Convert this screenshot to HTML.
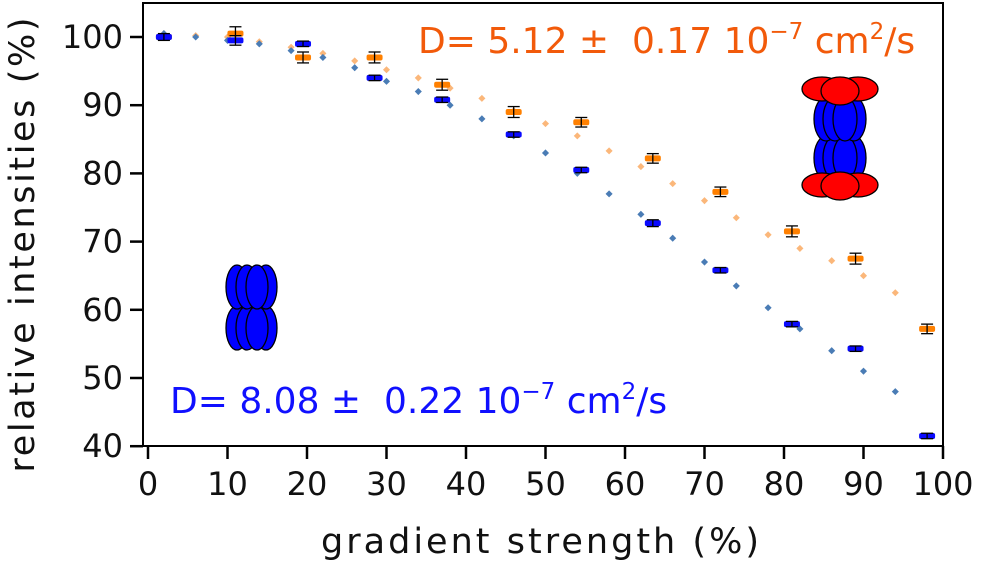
<!DOCTYPE html>
<html><head><meta charset="utf-8"><style>
body{margin:0;background:#fff}
svg text{font-family:"DejaVu Sans","Liberation Sans",sans-serif}
</style></head><body>
<svg id="chart" width="981" height="565">
<rect x="143" y="3" width="800" height="443" fill="none" stroke="#000" stroke-width="2"/>
<g id="ticks"></g><g id="fits"></g><g id="marks"></g>
<text x="24" y="245" transform="rotate(-90 24 245)" text-anchor="middle" dominant-baseline="middle" font-size="35" textLength="455" fill="#111">relative intensities (%)</text>
<text x="540" y="553" text-anchor="middle" font-size="35" textLength="438" fill="#111">gradient strength (%)</text>
<text x="418" y="53" font-size="36" fill="#f25a0a">D= 5.12 ±&#160; 0.17 10<tspan dy="-14" font-size="23">−7</tspan><tspan dy="14"> cm</tspan><tspan dy="-14" font-size="23">2</tspan><tspan dy="14">/s</tspan></text>
<text x="170" y="413" font-size="36" fill="#1010ff">D= 8.08 ±&#160; 0.22 10<tspan dy="-14" font-size="23">−7</tspan><tspan dy="14"> cm</tspan><tspan dy="-14" font-size="23">2</tspan><tspan dy="14">/s</tspan></text>
<g stroke="#000" stroke-width="1.3">
<ellipse cx="826" cy="158" rx="12" ry="22" fill="#0000ff"/><ellipse cx="854" cy="158" rx="12" ry="22" fill="#0000ff"/><ellipse cx="835" cy="158" rx="12" ry="22" fill="#0000ff"/><ellipse cx="845" cy="158" rx="12" ry="22" fill="#0000ff"/>
<ellipse cx="826" cy="119" rx="12" ry="22" fill="#0000ff"/><ellipse cx="854" cy="119" rx="12" ry="22" fill="#0000ff"/><ellipse cx="835" cy="119" rx="12" ry="22" fill="#0000ff"/><ellipse cx="845" cy="119" rx="12" ry="22" fill="#0000ff"/>
<ellipse cx="822" cy="89" rx="20" ry="12" fill="#f00"/><ellipse cx="858" cy="89" rx="20" ry="12" fill="#f00"/><ellipse cx="840" cy="91" rx="19" ry="14" fill="#f00"/>
<ellipse cx="822" cy="185" rx="20" ry="12" fill="#f00"/><ellipse cx="858" cy="185" rx="20" ry="12" fill="#f00"/><ellipse cx="840" cy="186" rx="19" ry="14" fill="#f00"/>
</g>
<g stroke="#000" stroke-width="1.3" fill="#0000ff">
<ellipse cx="237" cy="328" rx="11" ry="22"/><ellipse cx="266" cy="328" rx="11" ry="22"/><ellipse cx="247" cy="328" rx="11" ry="22"/><ellipse cx="257" cy="328" rx="11" ry="22"/>
<ellipse cx="237" cy="287" rx="11" ry="22"/><ellipse cx="266" cy="287" rx="11" ry="22"/><ellipse cx="247" cy="287" rx="11" ry="22"/><ellipse cx="257" cy="287" rx="11" ry="22"/>
</g>
</svg>
<script>
const xTicks=[0,10,20,30,40,50,60,70,80,90,100];
const yTicks=[40,50,60,70,80,90,100];
const gradX=[2,11,19.5,28.5,37,46,54.5,63.5,72,81,89,98];
const blueVals=[100,99.5,99,94,90.8,85.7,80.5,72.7,65.8,57.9,54.3,41.5];
const blueErr=[0.5,0.7,0.4,0.4,0.4,0.4,0.4,0.5,0.4,0.4,0.4,0.4];
const orangeVals=[100,100.5,97,97,93,89,87.5,82.2,77.3,71.5,67.5,57.2];
const orangeErr=[0.4,1.0,0.8,0.8,0.8,0.8,0.7,0.7,0.7,0.8,0.8,0.7];
const fitX=[2,6,10,14,18,22,26,30,34,38,42,46,50,54,58,62,66,70,74,78,82,86,90,94];
const blueFit=[100.5,100,99.5,99,98,97,95.5,93.5,92,90,88,85.5,83,80,77,74,70.5,67,63.5,60.3,57.2,54,51,48];
const orangeFit=[100.5,100.2,100,99.3,98.5,97.6,96.5,95.2,94,92.5,91,89.2,87.3,85.5,83.3,81,78.5,76,73.5,71,69,67.2,65,62.5];
const ns="http://www.w3.org/2000/svg";
const X=v=>148+v*7.95, Y=v=>37+(100-v)*6.82;
function mk(t,a,p){const e=document.createElementNS(ns,t);for(const k in a)e.setAttribute(k,a[k]);p.appendChild(e);return e;}
const tk=document.getElementById('ticks'),fits=document.getElementById('fits'),mk2=document.getElementById('marks');
xTicks.forEach(v=>{const l=mk('line',{x1:X(v),x2:X(v),y1:446,y2:459,stroke:'#000','stroke-width':2.5},tk);

const t=mk('text',{x:X(v),y:495,'text-anchor':'middle','font-size':32,fill:'#111'},tk);t.textContent=v;
});
yTicks.forEach(v=>{const l=mk('line',{x1:130,x2:143,y1:Y(v),y2:Y(v),stroke:'#000','stroke-width':2.5},tk);

const t=mk('text',{x:123,y:Y(v)+11,'text-anchor':'end','font-size':32,fill:'#111'},tk);t.textContent=v;
});
function fit(vals,c,name){fitX.forEach((x,i)=>{const r=mk('rect',{x:X(x)-2.5,y:Y(vals[i])-2.5,width:5,height:5,fill:c,transform:`rotate(45 ${X(x)} ${Y(vals[i])})`},fits);
});}
fit(orangeFit,'#fbb77a','orange-fit-point');fit(blueFit,'#4a7cb5','blue-fit-point');
function pts(vals,err,c,name){gradX.forEach((x,i)=>{const g=mk('g',{},mk2);

const cx=X(x),cy=Y(vals[i]),e=err[i]*6.82;
mk('rect',{x:cx-8,y:cy-3,width:16,height:6,rx:2,fill:c},g);
mk('line',{x1:cx,x2:cx,y1:cy-e,y2:cy+e,stroke:'#000','stroke-width':1.3},g);
mk('line',{x1:cx-6,x2:cx+6,y1:cy-e,y2:cy-e,stroke:'#000','stroke-width':1.3},g);
mk('line',{x1:cx-6,x2:cx+6,y1:cy+e,y2:cy+e,stroke:'#000','stroke-width':1.3},g);});}
pts(orangeVals,orangeErr,'#ff8000','orange-point');pts(blueVals,blueErr,'#0a0aff','blue-point');
</script>
</body></html>
